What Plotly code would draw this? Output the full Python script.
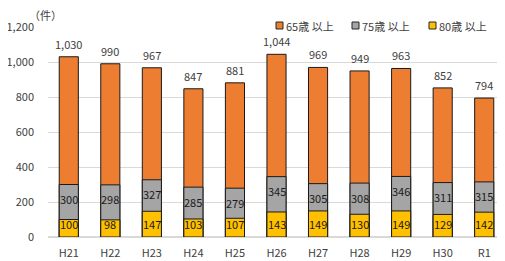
import plotly.graph_objects as go

categories = ["H21", "H22", "H23", "H24", "H25", "H26", "H27", "H28", "H29", "H30", "R1"]
over65 = [1030, 990, 967, 847, 881, 1044, 969, 949, 963, 852, 794]
over75 = [300, 298, 327, 285, 279, 345, 305, 308, 346, 311, 315]
over80 = [100, 98, 147, 103, 107, 143, 149, 130, 149, 129, 142]
series_names = ["65歳 以上", "75歳 以上", "80歳 以上"]
y_ticks = [0, 200, 400, 600, 800, 1000, 1200]

colors = ["#ED7D31", "#A5A5A5", "#FFC000"]
FONT = "Noto Sans CJK JP"
OFF = 8  # default page body margin
W, H = 505 - OFF, 261 - OFF
ML, MR, MT, MB = 48 - OFF, 0, 27 - OFF, 24
PW, PH = W - ML - MR, H - MT - MB


def xp(px):  # window pixel -> paper
    return (px - OFF - ML) / PW


def yp(py):
    return (H - MB - (py - OFF)) / PH


fig = go.Figure()
for name, vals, col in zip(series_names, [over65, over75, over80], colors):
    fig.add_trace(go.Bar(
        x=categories, y=vals, name=name, width=0.46,
        marker=dict(color=col, line=dict(color="#1a1a1a", width=1)),
        showlegend=False, hoverinfo="skip",
    ))

ann = []
for c, v in zip(categories, over65):
    ann.append(dict(x=c, y=v, text=f"{v:,}", showarrow=False, yshift=13,
                    font=dict(size=11, color="#404040", family=FONT)))
for c, v in zip(categories, over75):
    ann.append(dict(x=c, y=v, text=f"{v:,}", showarrow=False, yshift=-14.5,
                    font=dict(size=11, color="#1a1a1a", family=FONT)))
for c, v in zip(categories, over80):
    ann.append(dict(x=c, y=0, text=f"{v:,}", showarrow=False, yshift=13,
                    font=dict(size=11, color="#1a1a1a", family=FONT)))

# unit label
ann.append(dict(xref="paper", yref="paper", x=xp(27), y=yp(15), xanchor="left",
                yanchor="middle", text="（件）", showarrow=False,
                font=dict(size=11, color="#404040", family=FONT)))

# manual legend
legend_x = [276, 352, 429]
shapes = []
for lx, name, col in zip(legend_x, series_names, colors):
    shapes.append(dict(type="rect", xref="paper", yref="paper",
                       x0=xp(lx), x1=xp(lx + 7), y0=yp(29), y1=yp(22),
                       fillcolor=col, line=dict(color="#262626", width=1)))
    ann.append(dict(xref="paper", yref="paper", x=xp(lx + 7.5), y=yp(25.5),
                    xanchor="left", yanchor="middle", text=name, showarrow=False,
                    font=dict(size=11, color="#404040", family=FONT)))

fig.update_layout(
    width=W, height=H,
    margin=dict(l=ML, r=MR, t=MT, b=MB, pad=0),
    barmode="overlay",
    plot_bgcolor="white", paper_bgcolor="white",
    font=dict(family=FONT, size=11, color="#595959"),
    annotations=ann, shapes=shapes,
    xaxis=dict(range=[-0.5, 10.5], showgrid=False, showline=False, zeroline=False,
               ticks="", tickfont=dict(size=11, color="#404040"), ticklabelstandoff=8),
    yaxis=dict(range=[0, 1200], tickvals=y_ticks, tickformat=",",
               gridcolor="#D9D9D9", gridwidth=1, zeroline=True, zerolinecolor="#D9D9D9",
               showline=False, ticks="", tickfont=dict(size=11, color="#404040"),
               ticklabelstandoff=13),
)

fig.write_html("out.html")
